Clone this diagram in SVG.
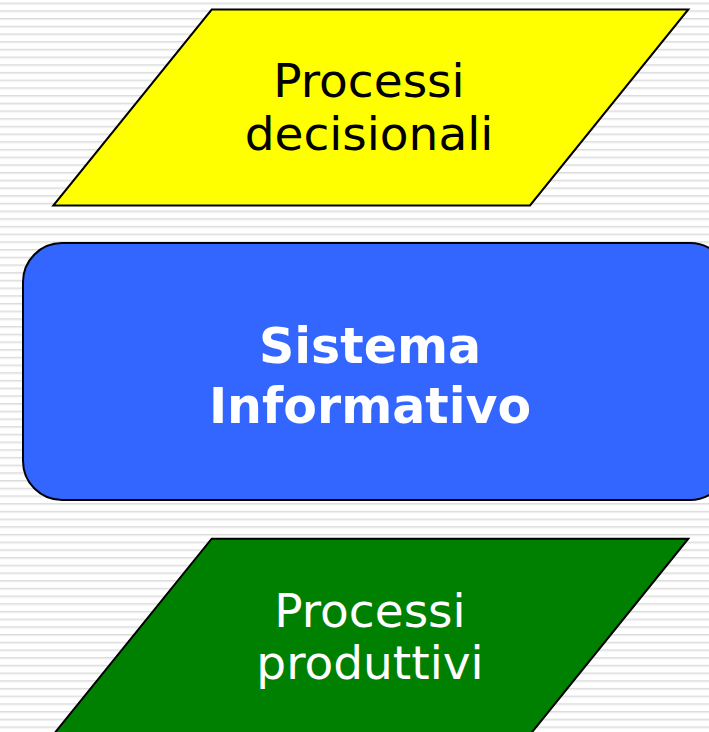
<svg xmlns="http://www.w3.org/2000/svg" width="709" height="732" viewBox="0 0 709 732">
  <defs>
    <pattern id="stripes" x="0" y="2.6" width="709" height="7.7" patternUnits="userSpaceOnUse">
      <rect x="0" y="0" width="709" height="1" fill="#dcdcdc"/>
      <rect x="0" y="1" width="709" height="1.2" fill="#ebebeb"/>
    </pattern>
    <style>
      .shape { stroke: #000000; stroke-width: 2; stroke-linejoin: miter; }
      .label { font-family: "DejaVu Sans", Verdana, sans-serif; font-size: 47px; text-anchor: middle; }
      .bold { font-family: "DejaVu Sans", Verdana, sans-serif; font-size: 49px; font-weight: bold; text-anchor: middle; fill: #ffffff; }
    </style>
  </defs>
  <rect x="0" y="0" width="709" height="732" fill="#ffffff"/>
  <rect x="0" y="0" width="709" height="732" fill="url(#stripes)"/>

  <g id="processi-decisionali">
    <polygon class="shape" points="211.7,9.5 688.3,9.5 530,205.5 53.3,205.5" fill="#ffff00"/>
    <text class="label" fill="#000000"><tspan x="369" y="97">Processi</tspan><tspan x="369" y="150">decisionali</tspan></text>
  </g>

  <g id="sistema-informativo">
    <rect class="shape" x="23" y="243" width="706" height="257" rx="39" ry="39" fill="#3366ff"/>
    <text class="bold"><tspan x="370" y="363">Sistema</tspan><tspan x="370" y="423">Informativo</tspan></text>
  </g>

  <g id="processi-produttivi">
    <polygon class="shape" points="211.7,538.7 688.3,538.7 530,734.7 53.3,734.7" fill="#008000"/>
    <text class="label" fill="#ffffff"><tspan x="370" y="627">Processi</tspan><tspan x="370" y="679">produttivi</tspan></text>
  </g>

  <g id="connectors"/>
</svg>
